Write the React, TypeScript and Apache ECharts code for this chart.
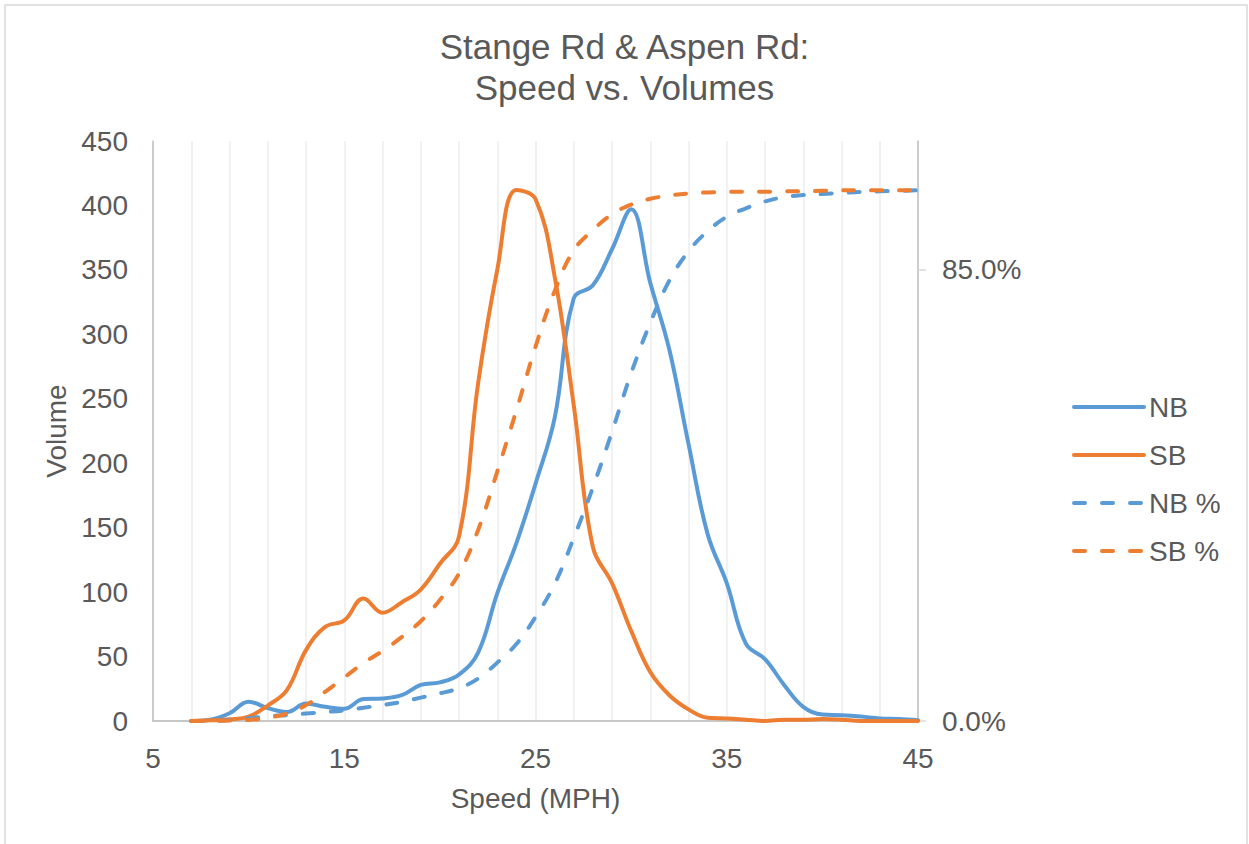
import React, { useEffect, useRef } from "react";
import * as echarts from "echarts";

// Speed (MPH) categories
const speeds = [7, 8, 9, 10, 11, 12, 13, 14, 15, 16, 17, 18, 19, 20, 21, 22, 23, 24, 25, 26, 27, 28, 29, 30, 31, 32, 33, 34, 35, 36, 37, 38, 39, 40, 41, 42, 43, 44, 45];

// Volumes per speed bin
const nbVolume = [0, 1, 6, 15, 10, 7, 13.5, 11, 9.5, 17, 17.5, 20, 28, 30, 36, 53, 99, 138, 184, 235, 328, 338, 366, 397, 340, 288, 215, 145, 107, 60, 48, 28, 11, 5, 4.5, 3.5, 2, 1.5, 0.5];
const sbVolume = [0, 0.5, 1.3, 3.4, 12, 24, 55, 73, 78, 95, 84, 92, 102, 122, 143, 262, 350, 412, 405, 345, 245, 135, 107, 70, 38, 20, 9, 2.5, 2, 1, 0, 1, 1, 1.5, 1, 0, 0, 0, 0];

// Cumulative percentages (%)
const nbPercent = [0, 0, 0.2, 0.5, 0.9, 1.1, 1.4, 1.7, 2.0, 2.5, 3.0, 3.6, 4.4, 5.2, 6.2, 8.0, 11.0, 14.5, 19.6, 25.8, 34.5, 44, 54.5, 65.5, 75, 83, 88.5, 92.3, 95, 96.6, 97.9, 98.7, 99.1, 99.3, 99.5, 99.7, 99.8, 99.9, 100];
const sbPercent = [0, 0, 0.1, 0.2, 0.6, 1.4, 3, 5.5, 8.2, 10.9, 13.2, 15.8, 18.8, 22.8, 27.8, 36, 47, 58.5, 70.5, 81, 88.7, 92.5, 95.5, 97.3, 98.4, 99, 99.4, 99.6, 99.7, 99.7, 99.7, 99.8, 99.8, 99.9, 100, 100, 100, 100, 100];

// Axis settings
const xMin = 5;
const xMax = 45;
const xStep = 10;
const volMax = 450;
const volStep = 50;
const pctStep = 85;
const pctTicks = [0, 85];
const pctMax = (volMax / 350) * 85;

const seriesNames = ["NB", "SB", "NB %", "SB %"];

const FONT = "'Liberation Sans', Arial, sans-serif";
const TEXT = "#595959";
const BLUE = "#5B9BD5";
const ORANGE = "#ED7D31";
const LW = 4;

export default function App() {
  const ref = useRef<HTMLDivElement>(null);

  useEffect(() => {
    if (!ref.current) return;
    const chart = echarts.init(ref.current, undefined, { renderer: "svg" });
    const pair = (arr: number[]) => speeds.map((s, i) => [s, arr[i]]);
    const solid = (color: string) => ({
      color,
      width: LW,
      cap: "round" as const,
      join: "round" as const,
    });
    const dashed = (color: string) => ({
      color,
      width: LW,
      type: [11, 17],
      cap: "round" as const,
      join: "round" as const,
    });

    chart.setOption({
      animation: false,
      backgroundColor: "#ffffff",
      textStyle: { fontFamily: FONT },
      title: {
        text: "Stange Rd & Aspen Rd:\nSpeed vs. Volumes",
        left: "center",
        top: 21,
        textStyle: {
          fontFamily: FONT,
          fontSize: 35,
          fontWeight: "normal",
          color: TEXT,
          lineHeight: 41,
        },
      },
      graphic: [
        {
          type: "rect",
          shape: { x: 5, y: 5, width: 1242, height: 850 },
          style: { fill: "none", stroke: "#D9D9D9", lineWidth: 1.5 },
          silent: true,
        },
      ],
      legend: {
        data: seriesNames,
        orient: "vertical",
        left: 1067,
        top: 388,
        itemWidth: 70,
        itemHeight: 20,
        itemGap: 20,
        itemStyle: { opacity: 0, borderWidth: 0 },
        lineStyle: { width: LW },
        textStyle: { fontFamily: FONT, fontSize: 28, color: TEXT },
      },
      grid: {
        left: 153,
        right: 331,
        top: 141,
        bottom: 123,
        containLabel: false,
        outerBoundsMode: "none",
      },
      xAxis: {
        type: "value",
        min: xMin,
        max: xMax,
        interval: xStep,
        name: "Speed (MPH)",
        nameLocation: "middle",
        nameGap: 63,
        nameTextStyle: { fontFamily: FONT, fontSize: 28, color: TEXT },
        axisLine: { show: true, lineStyle: { color: "#BFBFBF", width: 1.5 } },
        axisTick: { show: false },
        axisLabel: { fontFamily: FONT, fontSize: 28, color: TEXT, margin: 23 },
        splitLine: { show: true, lineStyle: { color: "#EDEDED", width: 1.5 } },
        minorTick: { show: false, splitNumber: 5 },
        minorSplitLine: { show: true, lineStyle: { color: "#EDEDED", width: 1.5 } },
      },
      yAxis: [
        {
          type: "value",
          min: 0,
          max: volMax,
          interval: volStep,
          name: "Volume",
          nameLocation: "middle",
          nameGap: 82,
          nameTextStyle: { fontFamily: FONT, fontSize: 28, color: TEXT },
          axisLine: { show: true, lineStyle: { color: "#BFBFBF", width: 1.5 } },
          axisTick: { show: false },
          axisLabel: { fontFamily: FONT, fontSize: 28, color: TEXT, margin: 25 },
          splitLine: { show: false },
        },
        {
          type: "value",
          position: "right",
          min: 0,
          max: pctMax,
          interval: pctStep,
          axisLine: { show: true, lineStyle: { color: "#BFBFBF", width: 1.5 } },
          axisTick: {
            show: true,
            length: 8,
            customValues: pctTicks,
            lineStyle: { color: "#D9D9D9", width: 1.5 },
          },
          axisLabel: {
            fontFamily: FONT,
            fontSize: 28,
            color: TEXT,
            margin: 24,
            formatter: (v: number) => (v > 100 ? "" : v.toFixed(1) + "%"),
          },
          splitLine: {
            show: true,
            showMinLine: true,
            showMaxLine: false,
            lineStyle: { color: "#D9D9D9", width: 1.5 },
          },
        },
      ],
      series: [
        {
          name: seriesNames[0],
          type: "line",
          data: pair(nbVolume),
          smooth: 0.4,
          symbol: "none",
          showSymbol: false,
          lineStyle: solid(BLUE),
          itemStyle: { color: BLUE },
          z: 2,
        },
        {
          name: seriesNames[1],
          type: "line",
          data: pair(sbVolume),
          smooth: 0.4,
          symbol: "none",
          showSymbol: false,
          lineStyle: solid(ORANGE),
          itemStyle: { color: ORANGE },
          z: 3,
        },
        {
          name: seriesNames[2],
          type: "line",
          yAxisIndex: 1,
          data: pair(nbPercent),
          smooth: 0.4,
          symbol: "none",
          showSymbol: false,
          lineStyle: dashed(BLUE),
          itemStyle: { color: BLUE },
          z: 4,
        },
        {
          name: seriesNames[3],
          type: "line",
          yAxisIndex: 1,
          data: pair(sbPercent),
          smooth: 0.4,
          symbol: "none",
          showSymbol: false,
          lineStyle: dashed(ORANGE),
          itemStyle: { color: ORANGE },
          z: 5,
        },
      ],
    });

    return () => {
      chart.dispose();
    };
  }, []);

  return (
    <div
      ref={ref}
      style={{ position: "absolute", left: 0, top: 0, width: 1249, height: 844, background: "#fff" }}
    />
  );
}
